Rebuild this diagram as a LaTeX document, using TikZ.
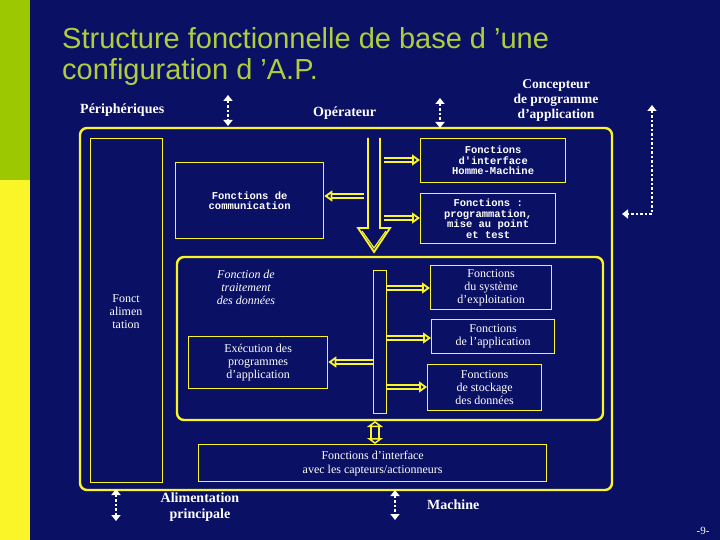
\documentclass[tikz,border=0pt]{standalone}
\usepackage{fontspec}
\setmainfont{Liberation Serif}
\newfontfamily\titlefont{Liberation Sans}
\newfontfamily\monof{Liberation Mono}
\usetikzlibrary{arrows.meta}
\definecolor{navy}{RGB}{10,16,100}
\definecolor{ylw}{RGB}{250,245,40}
\definecolor{grn}{RGB}{155,200,0}
\definecolor{ttl}{RGB}{175,205,60}
\tikzset{
  box/.style={draw=ylw, line width=1.3pt, text=white, align=center, anchor=north west, inner sep=0pt, fill=navy, font=\fontsize{11}{11.5}\selectfont},
  mbox/.style={box, font=\monof\bfseries\fontsize{10.5}{10.5}\selectfont},
  frame/.style={draw=ylw, line width=2.4pt, rounded corners=7pt},
  harrow/.style={draw=ylw, double=navy, double distance=2.5pt, line width=1.8pt, -{Triangle[open,length=8pt,width=11pt]}},
  extarrow/.style={draw=white, line width=2.4pt, dash pattern=on 2.5pt off 2pt, {Triangle[length=6pt,width=9pt]}-{Triangle[length=6pt,width=9pt]}},
  lbl/.style={text=white, font=\bfseries\fontsize{14}{14}\selectfont, align=center, inner sep=0pt},
}
\begin{document}
\begin{tikzpicture}[x=1pt,y=-1pt]
\fill[navy] (0,0) rectangle (720,540);
\useasboundingbox (0,0) rectangle (720,540);
\fill[grn] (0,0) rectangle (30,180);
\fill[ylw] (0,180) rectangle (30,540);
\node[anchor=west, text=ttl, font=\titlefont\fontsize{29}{32}\selectfont, inner sep=0pt] (t1) at (62,38) {Structure fonctionnelle de base d ’une};
\node[anchor=west, text=ttl, font=\titlefont\fontsize{29}{32}\selectfont, inner sep=0pt] (t2) at (62,72) {configuration d ’A.P.};
% frames
\draw[frame] (80,128) rectangle (612,490);
\draw[frame] (177,257) rectangle (603,420);
% boxes
\node[box, minimum width=72pt, minimum height=344pt] (alim) at (90,138) {};
\node[text=white, font=\fontsize{12}{13}\selectfont, align=center] (alimt) at (126,312) {Fonct\\alimen\\tation};
\node[mbox, minimum width=148pt, minimum height=76pt] (comm) at (175,162) {Fonctions de\\communication};
\node[mbox, minimum width=145pt, minimum height=44pt] (ihm) at (420,138) {Fonctions\\d'interface\\Homme-Machine};
\node[mbox, minimum width=135pt, minimum height=50pt] (prog) at (420,193) {Fonctions :\\programmation,\\mise au point\\et test};
\node[text=white, font=\itshape\fontsize{12}{13}\selectfont, align=center] (trait) at (246,287) {Fonction de\\traitement\\des données};
\node[box, minimum width=13pt, minimum height=143pt] (bar) at (373,270) {};
\node[box, minimum width=139pt, minimum height=52pt, font=\fontsize{12}{13}\selectfont] (exec) at (188,336) {Exécution des\\programmes\\d'application};
\node[box, minimum width=121pt, minimum height=44pt, font=\fontsize{12}{13}\selectfont] (sys) at (430,265) {Fonctions\\du système\\d'exploitation};
\node[box, minimum width=123pt, minimum height=34pt, font=\fontsize{12}{13}\selectfont] (app) at (431,319) {Fonctions\\de l'application};
\node[box, minimum width=114pt, minimum height=46pt, font=\fontsize{12}{13}\selectfont] (stock) at (427,364) {Fonctions\\de stockage\\des données};
\node[box, minimum width=348pt, minimum height=37pt, font=\fontsize{12}{14}\selectfont] (capt) at (198,444) {Fonctions d'interface\\avec les capteurs/actionneurs};
% main bus
\coordinate (b1) at (368,138); \coordinate (b2) at (380,138);
\draw[ylw, line width=1.8pt] (b1) -- (368,228) -- (358,228) -- (374,252) -- (390,228) -- (380,228) -- (b2);
\draw[ylw, line width=1.2pt] (362,231) -- (374,248) -- (386,231);
% internal arrows
\draw[harrow] (384,160) -- (ihm.west |- 0,160);
\draw[harrow] (364,196) -- (comm.east |- 0,196);
\draw[harrow] (384,218) -- (prog.west |- 0,218);
\draw[harrow] (bar.east |- 0,288) -- (sys.west |- 0,288);
\draw[harrow] (bar.east |- 0,338) -- (app.west |- 0,338);
\draw[harrow] (bar.east |- 0,387) -- (stock.west |- 0,387);
\draw[harrow] (bar.west |- 0,362) -- (exec.east |- 0,362);
\draw[ylw, double=navy, double distance=6pt, line width=2pt, {Triangle[open,length=6pt,width=16pt]}-{Triangle[open,length=6pt,width=16pt]}] (375,421) -- (capt.north -| 375,0);
% external labels
\node[lbl, anchor=west] (peri) at (80,110) {Périphériques};
\node[lbl, anchor=west] (oper) at (313,113) {Opérateur};
\node[lbl, anchor=center, font=\bfseries\fontsize{13.5}{15}\selectfont] (conc) at (556,100) {Concepteur\\de programme\\d'application};
\node[lbl, anchor=center, font=\bfseries\fontsize{14}{16}\selectfont] (alp) at (200,507) {Alimentation\\principale};
\node[lbl, anchor=west] (mach) at (427,505) {Machine};
\node[text=white, font=\fontsize{11}{11}\selectfont] (pg) at (703,531) {-9-};
\coordinate (pA) at (228,95); \coordinate (pB) at (228,126);
\draw[extarrow] (pA) -- (pB);
\coordinate (oA) at (440,98); \coordinate (oB) at (440,128);
\draw[extarrow] (oA) -- (oB);
\coordinate (aA) at (116,489); \coordinate (aB) at (116,521);
\draw[extarrow] (aA) -- (aB);
\coordinate (mA) at (395,490); \coordinate (mB) at (395,520);
\draw[extarrow] (mA) -- (mB);
\coordinate (cA) at (652,105); \coordinate (cC) at (652,214); \coordinate (cB) at (622,214);
\draw[extarrow] (cA) -- (cC) -- (cB);
\end{tikzpicture}
\end{document}
